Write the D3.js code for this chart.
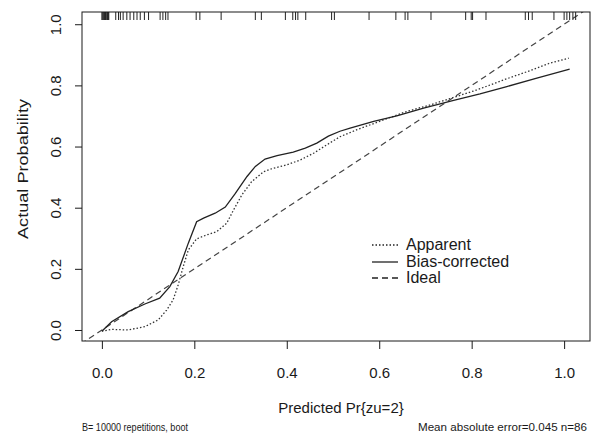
<!DOCTYPE html>
<html>
<head>
<meta charset="utf-8">
<script src="https://cdn.jsdelivr.net/npm/d3@7"></script>
<style>
  body { margin: 0; background: #fff; }
  svg text { font-family: "Liberation Sans", Arial, sans-serif; fill: #1a1a1a; }
</style>
</head>
<body>
<svg id="chart" width="591" height="435"></svg>
<script>
// calibration curves
var apparentX = [0.0, 0.021, 0.057, 0.093, 0.122, 0.140, 0.154, 0.165, 0.176, 0.187, 0.205, 0.227, 0.249, 0.270, 0.285, 0.303, 0.324, 0.350, 0.371, 0.400, 0.429, 0.458, 0.487, 0.515, 0.552, 0.609, 0.660, 0.710, 0.768, 0.811, 0.869, 0.926, 0.970, 1.010];
var apparentY = [-0.004, 0.002, 0.0, 0.011, 0.033, 0.065, 0.098, 0.147, 0.207, 0.262, 0.298, 0.311, 0.322, 0.349, 0.393, 0.442, 0.485, 0.518, 0.529, 0.540, 0.556, 0.578, 0.606, 0.632, 0.655, 0.687, 0.715, 0.736, 0.764, 0.785, 0.818, 0.848, 0.873, 0.889];

var biasX = [0.0, 0.021, 0.057, 0.093, 0.125, 0.147, 0.165, 0.187, 0.205, 0.220, 0.245, 0.267, 0.288, 0.314, 0.332, 0.353, 0.379, 0.414, 0.440, 0.465, 0.490, 0.515, 0.537, 0.588, 0.638, 0.696, 0.761, 0.818, 0.876, 0.941, 1.012];
var biasY = [-0.004, 0.027, 0.060, 0.085, 0.104, 0.142, 0.191, 0.284, 0.354, 0.366, 0.382, 0.402, 0.445, 0.502, 0.535, 0.559, 0.570, 0.582, 0.595, 0.611, 0.634, 0.650, 0.660, 0.682, 0.700, 0.726, 0.751, 0.772, 0.796, 0.824, 0.853];

// predicted values shown as the rug along the top
var rugValues = [0.0, 0.002, 0.003, 0.005, 0.006, 0.008, 0.009, 0.011, 0.012, 0.014, 0.015,
  0.030, 0.036, 0.040, 0.046, 0.054, 0.061, 0.069, 0.076, 0.083, 0.092, 0.101,
  0.126, 0.132, 0.138, 0.143, 0.204, 0.212, 0.258, 0.332, 0.345,
  0.397, 0.413, 0.419, 0.424, 0.441, 0.497, 0.503, 0.578, 0.636, 0.656, 0.662,
  0.712, 0.787, 0.799, 0.802, 0.831, 0.916, 0.923, 0.931, 0.978,
  1.000, 1.006, 1.012, 1.019, 1.025];

var tickValues = [0, 0.2, 0.4, 0.6, 0.8, 1.0];
var legendLabels = ["Apparent", "Bias-corrected", "Ideal"];
var xTitle = "Predicted Pr{zu=2}";
var yTitle = "Actual Probability";
var subLeft = "B= 10000 repetitions, boot";
var subRight = "Mean absolute error=0.045 n=86";

var box = {left: 82, right: 590, top: 12, bottom: 341};
var ink = "#1a1a1a";

var svg = d3.select("#chart");

var x = d3.scaleLinear().domain([-0.043, 1.056]).range([box.left, box.right]);
var y = d3.scaleLinear().domain([-0.036, 1.04]).range([box.bottom, box.top]);

svg.append("clipPath").attr("id", "plotclip")
  .append("rect")
  .attr("x", box.left).attr("y", box.top)
  .attr("width", box.right - box.left).attr("height", box.bottom - box.top);

var plot = svg.append("g").attr("clip-path", "url(#plotclip)");

// ideal line
plot.append("line")
  .attr("x1", x(-0.1)).attr("y1", y(-0.1))
  .attr("x2", x(1.1)).attr("y2", y(1.1))
  .attr("stroke", "#444").attr("stroke-width", 1.2)
  .attr("stroke-dasharray", "6,4");

var line = d3.line().x(d => x(d[0])).y(d => y(d[1]));

plot.append("path")
  .datum(apparentX.map((v, i) => [v, apparentY[i]]))
  .attr("d", line)
  .attr("fill", "none").attr("stroke", "#333").attr("stroke-width", 1.3)
  .attr("stroke-dasharray", "1.5,2");

plot.append("path")
  .datum(biasX.map((v, i) => [v, biasY[i]]))
  .attr("d", line)
  .attr("fill", "none").attr("stroke", "#222").attr("stroke-width", 1.3);

// rug
plot.selectAll(".rug")
  .data(rugValues)
  .join("line").attr("class", "rug")
  .attr("x1", d => x(d)).attr("x2", d => x(d))
  .attr("y1", box.top).attr("y2", box.top + 8)
  .attr("stroke", "#222").attr("stroke-width", 1);

// box
svg.append("rect")
  .attr("x", box.left).attr("y", box.top)
  .attr("width", box.right - box.left).attr("height", box.bottom - box.top)
  .attr("fill", "none").attr("stroke", ink).attr("stroke-width", 1);

// x axis
var xAxis = svg.append("g")
  .attr("transform", `translate(0,${box.bottom})`)
  .call(d3.axisBottom(x).tickValues(tickValues).tickFormat(d3.format(".1f")).tickSize(8).tickPadding(18));
xAxis.select(".domain").remove();
xAxis.selectAll("line").attr("stroke", ink);
xAxis.selectAll("text").attr("font-size", 15).attr("fill", ink);

// y axis, labels parallel to the axis
var yAxis = svg.append("g")
  .attr("transform", `translate(${box.left},0)`)
  .call(d3.axisLeft(y).tickValues(tickValues).tickFormat(d3.format(".1f")).tickSize(7));
yAxis.select(".domain").remove();
yAxis.selectAll("line").attr("stroke", ink);
yAxis.selectAll("text")
  .attr("font-size", 15).attr("fill", ink)
  .attr("transform", "rotate(-90)")
  .attr("text-anchor", "middle")
  .attr("x", 0).attr("y", -21).attr("dy", null);

svg.append("text")
  .attr("x", 341).attr("y", 413)
  .attr("text-anchor", "middle").attr("font-size", 15)
  .text(xTitle);

svg.append("text")
  .attr("transform", "translate(28,169) rotate(-90)")
  .attr("text-anchor", "middle").attr("font-size", 15)
  .attr("textLength", 140).attr("lengthAdjust", "spacingAndGlyphs")
  .text(yTitle);

svg.append("text")
  .attr("x", box.left).attr("y", 431)
  .attr("font-size", 10.5)
  .attr("textLength", 106).attr("lengthAdjust", "spacingAndGlyphs")
  .text(subLeft);

svg.append("text")
  .attr("x", 418).attr("y", 431)
  .attr("font-size", 11.5)
  .attr("textLength", 169).attr("lengthAdjust", "spacingAndGlyphs")
  .text(subRight);

// legend
var legendDash = ["1.5,2", null, "6,4"];
var legendY = [245, 262, 278];
var legend = svg.append("g");
legendLabels.forEach(function(label, i) {
  legend.append("line")
    .attr("x1", 372).attr("x2", 398)
    .attr("y1", legendY[i]).attr("y2", legendY[i])
    .attr("stroke", "#222").attr("stroke-width", 1.3)
    .attr("stroke-dasharray", legendDash[i]);
  legend.append("text")
    .attr("x", 406).attr("y", legendY[i] + 5)
    .attr("font-size", 16)
    .text(label);
});
</script>
</body>
</html>
